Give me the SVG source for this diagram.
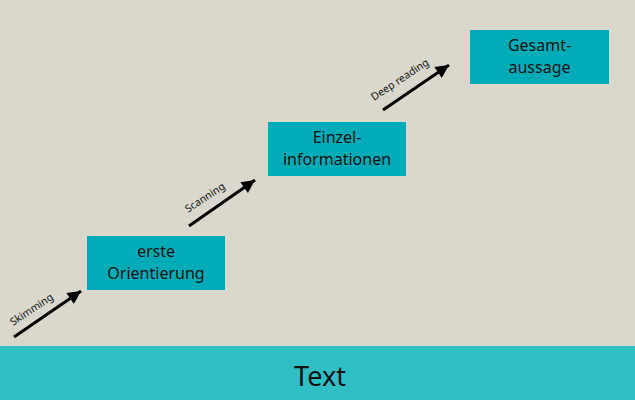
<svg xmlns="http://www.w3.org/2000/svg" width="635" height="400" viewBox="0 0 635 400">
<defs>
<style>
.box{fill:#00abb8;}
.t{font-family:"Noto Sans","Open Sans",sans-serif;font-size:16px;fill:#111;text-anchor:middle;}
.lbl{font-family:"Noto Sans","Open Sans",sans-serif;font-size:10.5px;fill:#111;}
.arr{stroke:#000;stroke-width:3;fill:none;marker-end:url(#ah);}
</style>
<marker id="ah" viewBox="0 0 10 10" refX="10" refY="5" markerWidth="5" markerHeight="4.4" markerUnits="strokeWidth" orient="auto">
<path d="M0,0 L10,5 L0,10 z" fill="#000"/>
</marker>
</defs>
<rect width="635" height="400" fill="#dad8cd"/>
<g id="text-band">
<rect x="0" y="346" width="635" height="54" fill="#2fbfc5"/>
<text x="320" y="386" style="font-family:'Noto Sans','Open Sans',sans-serif;font-size:27px;fill:#111;text-anchor:middle">Text</text>
</g>
<g id="node-orientierung">
<rect class="box" x="87" y="236" width="138" height="54"/>
<text class="t" x="156" y="257">erste</text>
<text class="t" x="156" y="279">Orientierung</text>
</g>
<g id="node-einzel">
<rect class="box" x="268" y="122" width="138" height="54"/>
<text class="t" x="337" y="143">Einzel-</text>
<text class="t" x="337" y="165">informationen</text>
</g>
<g id="node-gesamt">
<rect class="box" x="470" y="30" width="139" height="54"/>
<text class="t" x="539.5" y="51">Gesamt-</text>
<text class="t" x="539.5" y="73">aussage</text>
</g>
<g id="connectors">
<line class="arr" x1="14" y1="337" x2="81" y2="291"/>
<line class="arr" x1="189" y1="226" x2="255" y2="180"/>
<line class="arr" x1="383" y1="110" x2="449" y2="65"/>
<text class="lbl" transform="translate(13,326) rotate(-33.5)">Skimming</text>
<text class="lbl" transform="translate(188,213) rotate(-33.5)">Scanning</text>
<text class="lbl" transform="translate(374,101) rotate(-33.5)">Deep reading</text>
</g>
</svg>
